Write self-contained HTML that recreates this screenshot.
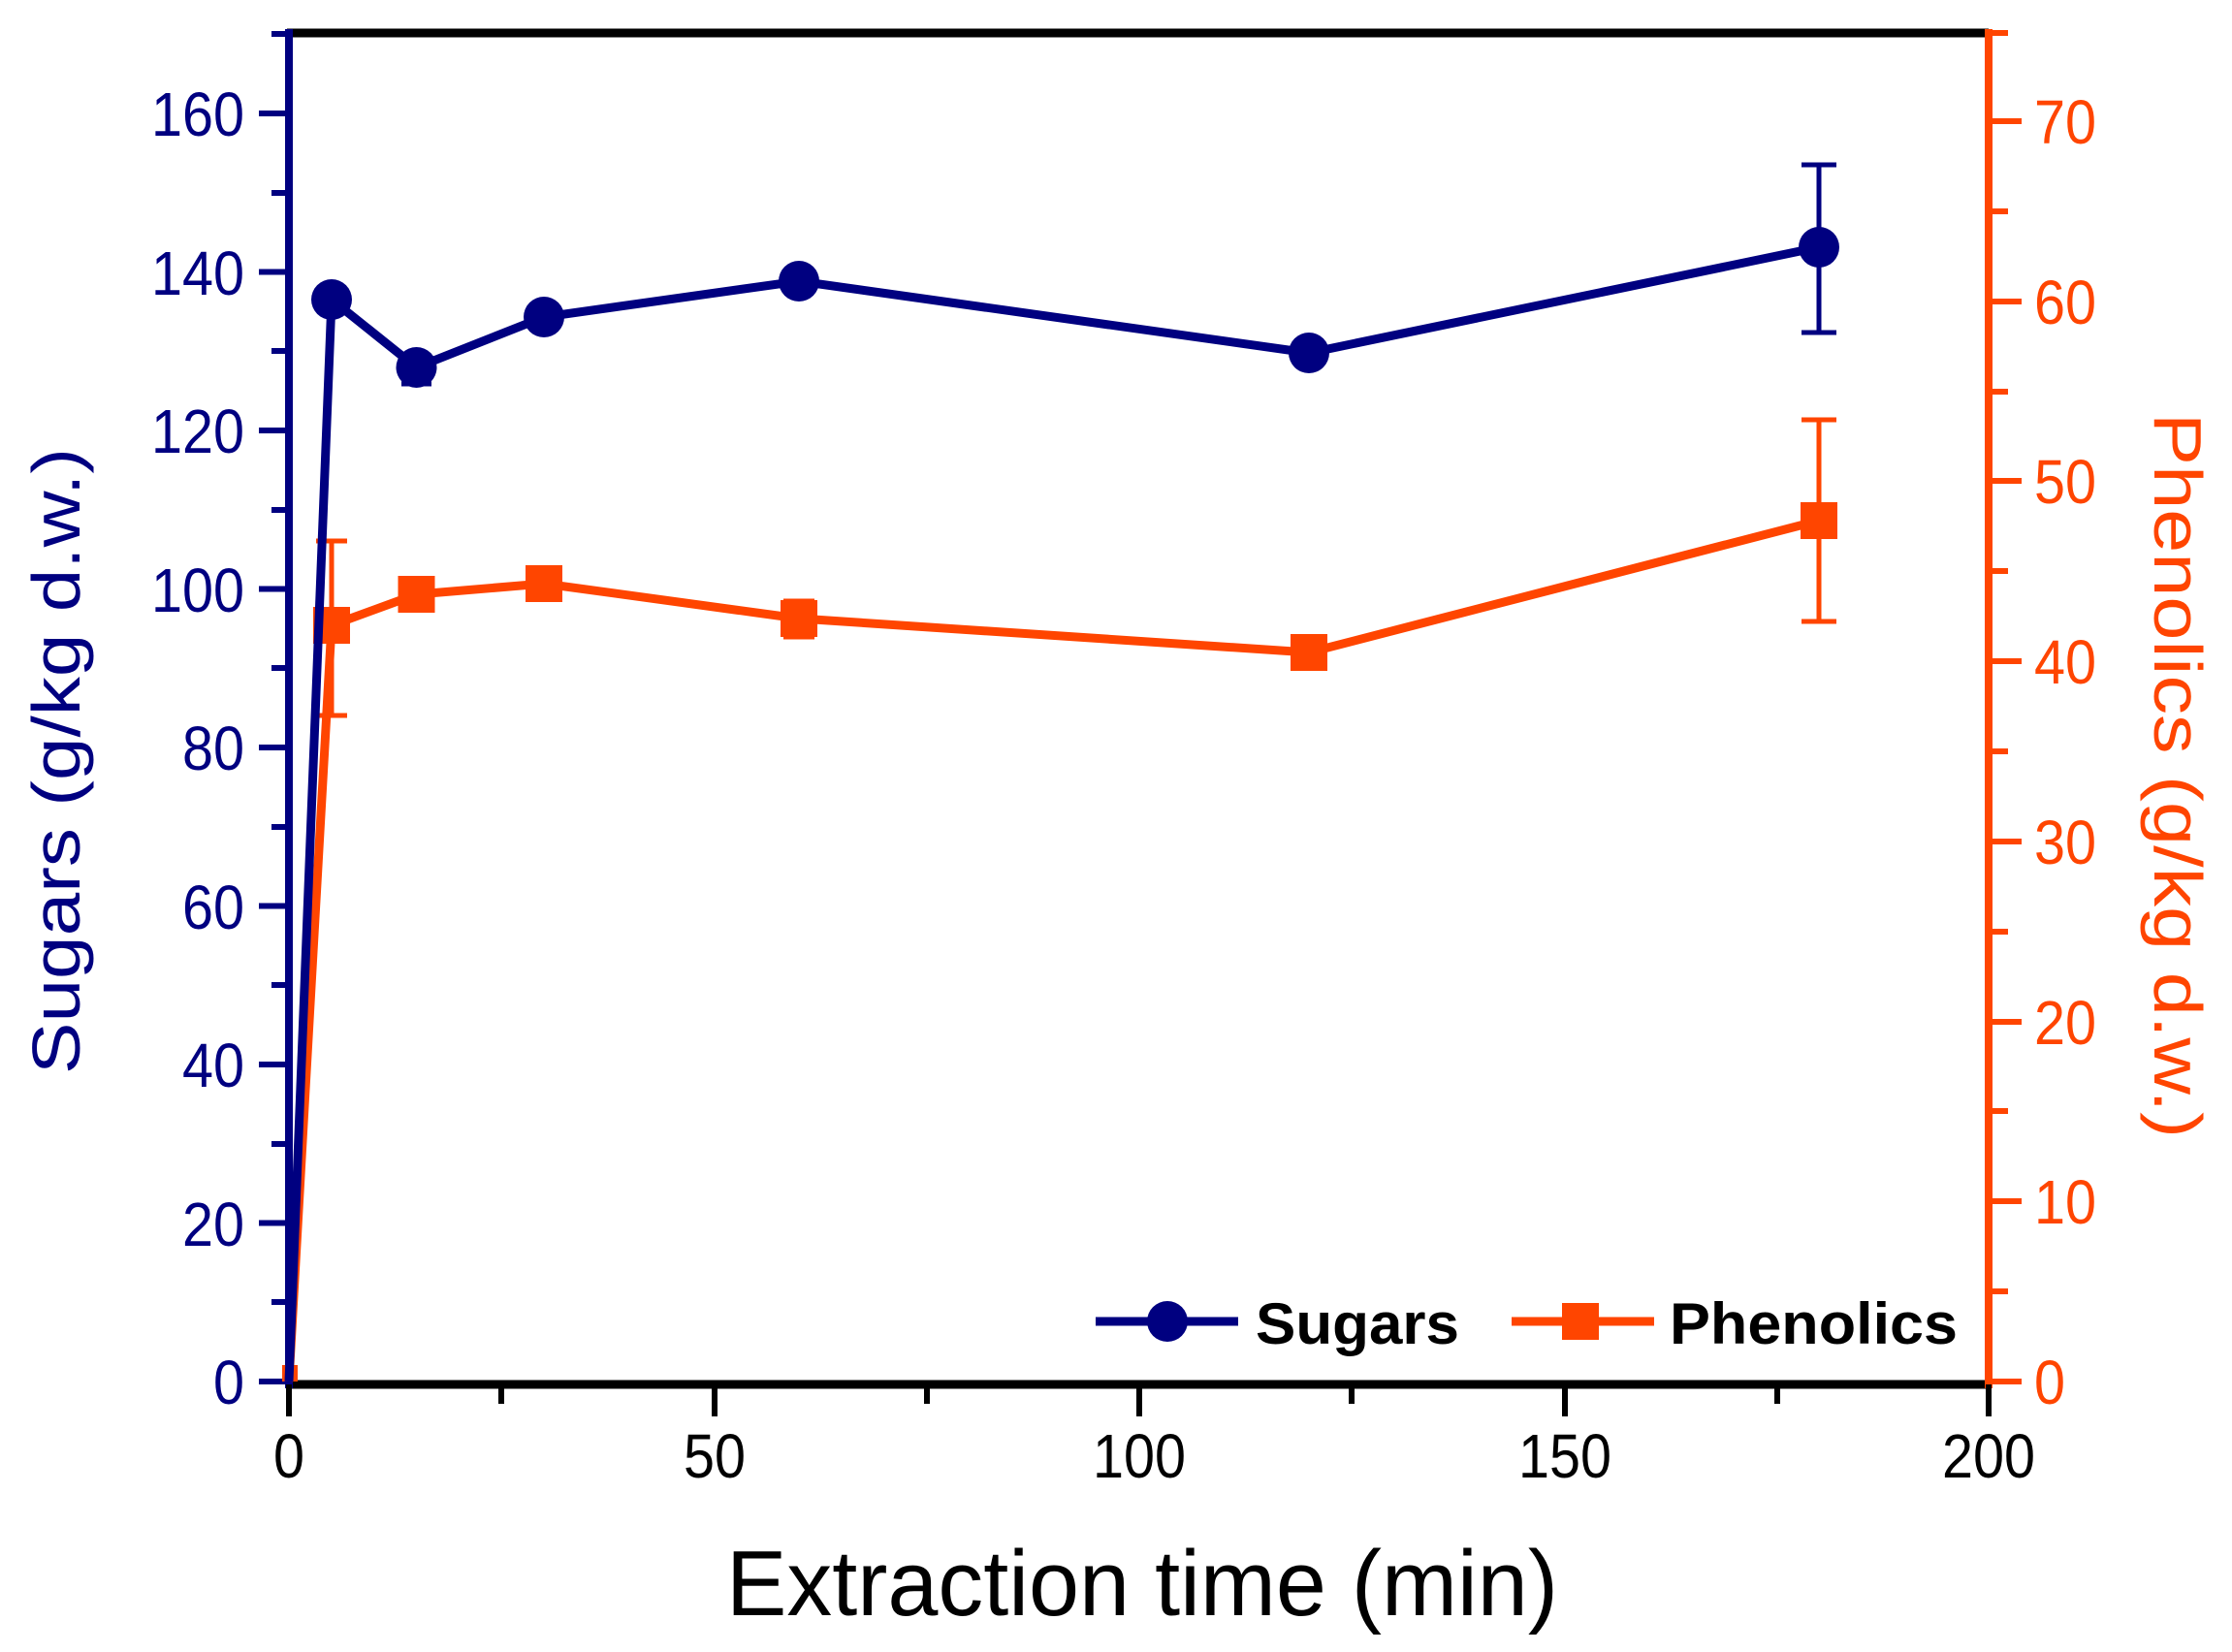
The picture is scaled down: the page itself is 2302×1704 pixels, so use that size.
<!DOCTYPE html>
<html><head><meta charset="utf-8"><style>html,body{margin:0;padding:0;background:#fff}</style></head><body>
<svg width="2302" height="1699" viewBox="0 0 2302 1699" xmlns="http://www.w3.org/2000/svg" font-family="'Liberation Sans', sans-serif">
<rect width="2302" height="1699" fill="#fff"/>
<line x1="296" y1="34" x2="2051" y2="34" stroke="#000" stroke-width="9"/>
<line x1="296" y1="1428" x2="2051" y2="1428" stroke="#000" stroke-width="9"/>
<line x1="298" y1="30" x2="298" y2="1432" stroke="#000080" stroke-width="8"/>
<line x1="2051" y1="30" x2="2051" y2="1432" stroke="#FF4500" stroke-width="8"/>
<g stroke="#000" stroke-width="6">
<line x1="298" y1="1428" x2="298" y2="1461"/><line x1="737" y1="1428" x2="737" y2="1461"/><line x1="1175" y1="1428" x2="1175" y2="1461"/><line x1="1614" y1="1428" x2="1614" y2="1461"/><line x1="2051" y1="1428" x2="2051" y2="1461"/>
<line x1="517" y1="1428" x2="517" y2="1448"/><line x1="956" y1="1428" x2="956" y2="1448"/><line x1="1394" y1="1428" x2="1394" y2="1448"/><line x1="1833" y1="1428" x2="1833" y2="1448"/>
</g>
<g font-size="64" text-anchor="middle" fill="#000" lengthAdjust="spacingAndGlyphs">
<text x="298" y="1524" textLength="32" lengthAdjust="spacingAndGlyphs">0</text><text x="737" y="1524" textLength="64" lengthAdjust="spacingAndGlyphs">50</text><text x="1175" y="1524" textLength="96" lengthAdjust="spacingAndGlyphs">100</text><text x="1614" y="1524" textLength="96" lengthAdjust="spacingAndGlyphs">150</text><text x="2051" y="1524" textLength="96" lengthAdjust="spacingAndGlyphs">200</text>
</g>
<g stroke="#000080" stroke-width="6">
<line x1="267" y1="1425" x2="298" y2="1425"/><line x1="267" y1="1261.5" x2="298" y2="1261.5"/><line x1="267" y1="1098" x2="298" y2="1098"/><line x1="267" y1="934.5" x2="298" y2="934.5"/><line x1="267" y1="771" x2="298" y2="771"/><line x1="267" y1="607.5" x2="298" y2="607.5"/><line x1="267" y1="444" x2="298" y2="444"/><line x1="267" y1="280.5" x2="298" y2="280.5"/><line x1="267" y1="117" x2="298" y2="117"/>
<line x1="280" y1="1343" x2="298" y2="1343"/><line x1="280" y1="1180" x2="298" y2="1180"/><line x1="280" y1="1016" x2="298" y2="1016"/><line x1="280" y1="853" x2="298" y2="853"/><line x1="280" y1="689" x2="298" y2="689"/><line x1="280" y1="526" x2="298" y2="526"/><line x1="280" y1="362" x2="298" y2="362"/><line x1="280" y1="199" x2="298" y2="199"/><line x1="280" y1="35" x2="298" y2="35"/>
</g>
<g font-size="64" text-anchor="end" fill="#000080">
<text x="252" y="1448" textLength="32" lengthAdjust="spacingAndGlyphs">0</text><text x="252" y="1285" textLength="64" lengthAdjust="spacingAndGlyphs">20</text><text x="252" y="1121" textLength="64" lengthAdjust="spacingAndGlyphs">40</text><text x="252" y="958" textLength="64" lengthAdjust="spacingAndGlyphs">60</text><text x="252" y="794" textLength="64" lengthAdjust="spacingAndGlyphs">80</text><text x="252" y="631" textLength="96" lengthAdjust="spacingAndGlyphs">100</text><text x="252" y="467" textLength="96" lengthAdjust="spacingAndGlyphs">120</text><text x="252" y="304" textLength="96" lengthAdjust="spacingAndGlyphs">140</text><text x="252" y="140" textLength="96" lengthAdjust="spacingAndGlyphs">160</text>
</g>
<g stroke="#FF4500" stroke-width="6">
<line x1="2051" y1="1425" x2="2085" y2="1425"/><line x1="2051" y1="1239" x2="2085" y2="1239"/><line x1="2051" y1="1054" x2="2085" y2="1054"/><line x1="2051" y1="868" x2="2085" y2="868"/><line x1="2051" y1="682" x2="2085" y2="682"/><line x1="2051" y1="496" x2="2085" y2="496"/><line x1="2051" y1="311" x2="2085" y2="311"/><line x1="2051" y1="125" x2="2085" y2="125"/>
<line x1="2051" y1="1332" x2="2071" y2="1332"/><line x1="2051" y1="1146" x2="2071" y2="1146"/><line x1="2051" y1="961" x2="2071" y2="961"/><line x1="2051" y1="775" x2="2071" y2="775"/><line x1="2051" y1="589" x2="2071" y2="589"/><line x1="2051" y1="404" x2="2071" y2="404"/><line x1="2051" y1="218" x2="2071" y2="218"/><line x1="2051" y1="34" x2="2071" y2="34"/>
</g>
<g font-size="64" text-anchor="start" fill="#FF4500">
<text x="2098" y="1448" textLength="32" lengthAdjust="spacingAndGlyphs">0</text><text x="2098" y="1262" textLength="64" lengthAdjust="spacingAndGlyphs">10</text><text x="2098" y="1077" textLength="64" lengthAdjust="spacingAndGlyphs">20</text><text x="2098" y="891" textLength="64" lengthAdjust="spacingAndGlyphs">30</text><text x="2098" y="705" textLength="64" lengthAdjust="spacingAndGlyphs">40</text><text x="2098" y="519" textLength="64" lengthAdjust="spacingAndGlyphs">50</text><text x="2098" y="334" textLength="64" lengthAdjust="spacingAndGlyphs">60</text><text x="2098" y="148" textLength="64" lengthAdjust="spacingAndGlyphs">70</text>
</g>
<text x="1178" y="1666" font-size="96" text-anchor="middle" textLength="858" lengthAdjust="spacingAndGlyphs" fill="#000">Extraction time (min)</text>
<text transform="translate(82,785) rotate(-90)" font-size="70" text-anchor="middle" textLength="646" lengthAdjust="spacingAndGlyphs" fill="#000080">Sugars (g/kg d.w.)</text>
<text transform="translate(2222,800) rotate(90)" font-size="70" text-anchor="middle" textLength="748" lengthAdjust="spacingAndGlyphs" fill="#FF4500">Phenolics (g/kg d.w.)</text>
<g stroke="#FF4500" stroke-width="5" fill="none">
<line x1="342" y1="558" x2="342" y2="738"/><line x1="326" y1="558" x2="358" y2="558"/><line x1="326" y1="738" x2="358" y2="738"/>
<line x1="824" y1="620" x2="824" y2="657"/><line x1="808" y1="620" x2="840" y2="620"/><line x1="808" y1="657" x2="840" y2="657"/>
<line x1="1876" y1="433" x2="1876" y2="641"/><line x1="1858" y1="433" x2="1894" y2="433"/><line x1="1858" y1="641" x2="1894" y2="641"/>
</g>
<polyline points="298,1425 342,645 429.5,613 561,602 824,638 1350,673 1876,537" fill="none" stroke="#FF4500" stroke-width="9"/>
<g fill="#FF4500">
<rect x="291" y="1408" width="16" height="17"/>
<rect x="323" y="626" width="38" height="38"/><rect x="410.5" y="594" width="38" height="38"/><rect x="542" y="583" width="38" height="38"/><rect x="805" y="619" width="38" height="38"/><rect x="1331" y="654" width="38" height="38"/><rect x="1857" y="518" width="38" height="38"/>
</g>
<g stroke="#000080" stroke-width="5" fill="none">
<line x1="1876" y1="170" x2="1876" y2="343"/><line x1="1858" y1="170" x2="1894" y2="170"/><line x1="1858" y1="343" x2="1894" y2="343"/>
<line x1="429.5" y1="362" x2="429.5" y2="396"/><line x1="414" y1="396" x2="445" y2="396"/>
</g>
<polyline points="298,1425 342,309 429.5,379 561,327 824,290 1350,364 1876,255" fill="none" stroke="#000080" stroke-width="9"/>
<g fill="#000080">
<circle cx="342" cy="309" r="21"/><circle cx="429.5" cy="379" r="21"/><circle cx="561" cy="327" r="21"/><circle cx="824" cy="290" r="21"/><circle cx="1350" cy="364" r="21"/><circle cx="1876" cy="255" r="21"/>
</g>
<line x1="1130" y1="1363" x2="1277" y2="1363" stroke="#000080" stroke-width="9"/>
<circle cx="1204" cy="1363" r="21" fill="#000080"/>
<text x="1295" y="1386" font-size="60" font-weight="bold" textLength="210" lengthAdjust="spacingAndGlyphs" fill="#000">Sugars</text>
<line x1="1559" y1="1363" x2="1706" y2="1363" stroke="#FF4500" stroke-width="9"/>
<rect x="1611" y="1344" width="38" height="38" fill="#FF4500"/>
<text x="1722" y="1386" font-size="60" font-weight="bold" textLength="297" lengthAdjust="spacingAndGlyphs" fill="#000">Phenolics</text>
</svg>
</body></html>
